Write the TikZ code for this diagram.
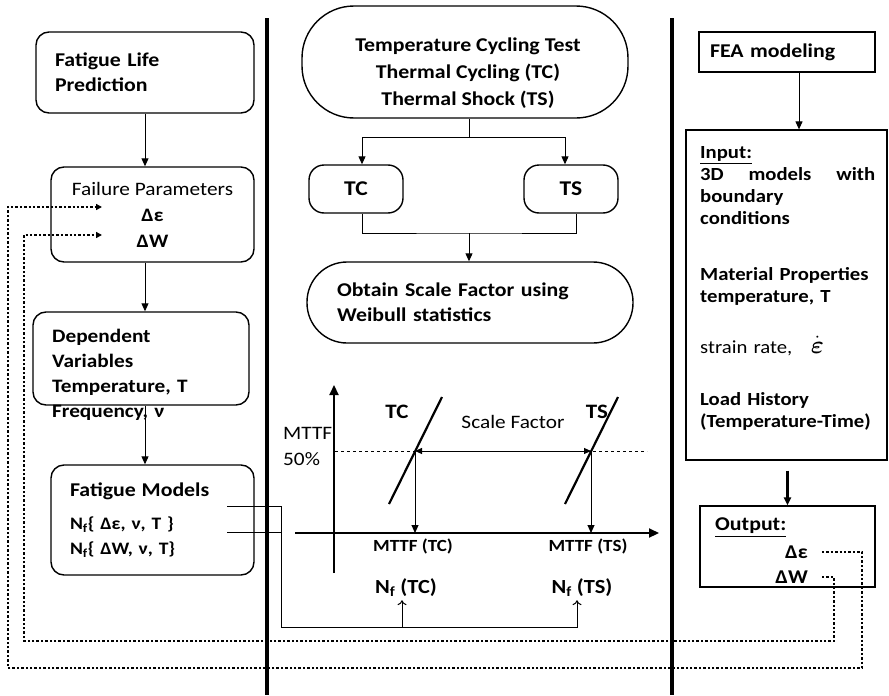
\documentclass[tikz,border=0pt]{standalone}
\usepackage{fontspec}
\setmainfont{Carlito}[FakeStretch=1.12]
\usepackage{amsmath}
\usetikzlibrary{positioning,arrows.meta,calc}

\begin{document}
\begin{tikzpicture}[x=1pt, y=-1pt,
   box/.style={draw, line width=1.4pt, rounded corners=13pt, inner sep=0pt},
   pill/.style={draw, line width=1.4pt, rounded corners=40pt, inner sep=0pt},
   sqbox/.style={draw, line width=1.2pt, inner sep=0pt},
   txt/.style={inner sep=0pt, align=left, font=\fontsize{19.5}{25}\selectfont\bfseries},
   plain/.style={inner sep=0pt, align=left, font=\fontsize{19}{26}\selectfont},
   small/.style={inner sep=0pt, font=\fontsize{17}{18}\selectfont\bfseries},
   wire/.style={line width=1pt},
   axis/.style={line width=2.2pt},
   dots/.style={line width=2.4pt, dash pattern=on 2.4pt off 2pt},
   sep/.style={line width=4pt},
   >={Triangle[length=8pt,width=7pt]}]
  \useasboundingbox (0,0) rectangle (889,696);

  % left column
  \node[box, txt, minimum width=218pt, minimum height=81pt, text width=180pt] (life) at (145,72.5) {Fatigue Life\\Prediction};
  \node[box, minimum width=203pt, minimum height=95pt, align=center,
        font=\fontsize{19}{26}\selectfont] (fail) at (152.5,214.5) {Failure Parameters\\\textbf{Δε}\\\textbf{ΔW}};
  \node[box, minimum width=216pt, minimum height=93pt] (dep) at (141,358.5) {};
  \node[txt, anchor=west, text width=195pt, font=\fontsize{19}{25}\selectfont\bfseries] (deptxt) at (52,374.5)
    {Dependent\\Variables\\Temperature, T\\Frequency, ν};
  \node[box, txt, minimum width=203pt, minimum height=110pt, text width=165pt,
        font=\fontsize{17.5}{25}\selectfont\bfseries] (models) at (152.5,520)
    {{\fontsize{19.5}{25}\selectfont Fatigue Models}\\[8pt]N\textsubscript{f}\{ Δε, ν, T \}\\N\textsubscript{f}\{ ΔW, ν, T\}};
  \draw[wire,->] (life.south) -- (life.south |- fail.north);
  \draw[wire,->] (life.south |- fail.south) -- (life.south |- dep.north);
  \draw[wire,->] (life.south |- dep.south) -- (life.south |- models.north);

  % centre column
  \node[pill, rounded corners=52pt, minimum width=326pt, minimum height=112pt] (test) at (465,62) {};
  \node[txt, align=center, font=\fontsize{19.5}{27}\selectfont\bfseries] (testtxt) at (468,73)
    {Temperature Cycling Test\\Thermal Cycling (TC)\\Thermal Shock (TS)};
  \node[box, txt, rounded corners=15pt, minimum width=94pt, minimum height=48pt, font=\fontsize{21}{25}\selectfont\bfseries] (tc) at (356,189) {TC};
  \node[box, txt, rounded corners=15pt, minimum width=94pt, minimum height=48pt, font=\fontsize{21}{25}\selectfont\bfseries] (ts) at (571,189) {TS};
  \node[pill, txt, minimum width=326pt, minimum height=81pt, text width=266pt] (scale) at (470,302.5)
    {Obtain Scale Factor using\\Weibull statistics};
  \coordinate (split) at (469,137);
  \coordinate (join) at (469,233);
  \draw[wire] (split |- test.south) -- (split);
  \draw[wire,->] (split) -| ([xshift=6pt]tc.north);
  \draw[wire,->] (split) -| ([xshift=-6pt]ts.north);
  \draw[wire] ([xshift=6pt]tc.south) |- (join) -| ([xshift=5pt]ts.south);
  \draw[wire,->] (join) -- (join |- scale.north);

  % MTTF chart
  \coordinate (o) at (334,533);
  \coordinate (ybot) at (334,573);
  \coordinate (ytop) at (334,385);
  \coordinate (xl) at (295,533);
  \coordinate (xr) at (659,533);
  \coordinate (pTC) at (415,451);
  \coordinate (pTS) at (591,451);
  \draw[axis,-{Triangle[length=10pt,width=9pt]}] (ybot) -- (ytop);
  \draw[axis,-{Triangle[length=10pt,width=9pt]}] (xl) -- (xr);
  \draw[dashed, line width=0.8pt] (335,451) -- (647,451);
  \draw[axis] (389,504) -- (442,397);
  \draw[axis] (565,504) -- (618,397);
  \draw[wire,{Triangle[length=7pt,width=6pt]}-{Triangle[length=7pt,width=6pt]}] (pTC) -- (pTS);
  \draw[wire,->] (pTC) -- (pTC |- o);
  \draw[wire,->] (pTS) -- (pTS |- o);
  \node[txt, font=\fontsize{20.5}{25}\selectfont\bfseries] (lblTC) at (397,412) {TC};
  \node[txt, font=\fontsize{20.5}{25}\selectfont\bfseries] (lblTS) at (597,412) {TS};
  \node[plain] (lblSF) at (513,422) {Scale Factor};
  \node[plain, anchor=west] (mttf) at (283,446) {MTTF\\50\%};
  \node[small] (mTC) at (413,546) {MTTF (TC)};
  \node[small] (mTS) at (588,546) {MTTF (TS)};
  \node[txt, font=\fontsize{20}{25}\selectfont\bfseries] (nfTC) at (406,588) {N\textsubscript{f} (TC)};
  \node[txt, font=\fontsize{20}{25}\selectfont\bfseries] (nfTS) at (582,588) {N\textsubscript{f} (TS)};

  % models feed the N_f values
  \coordinate (m1) at (227,506);
  \coordinate (m2) at (227,532);
  \coordinate (busL) at (281,627);
  \coordinate (busR) at (578,627);
  \draw[wire] (m1) -| (busL) -- (busR);
  \draw[wire] (m2) -- (m2 -| busL);
  \draw[wire,-{To[length=5pt,width=9pt]}] ([xshift=-4pt]nfTC.south |- busL) -- ([xshift=-4pt,yshift=-3pt]nfTC.south);
  \draw[wire,-{To[length=5pt,width=9pt]}] ([xshift=-5pt]nfTS.south |- busR) -- ([xshift=-5pt,yshift=-3pt]nfTS.south);

  % right column
  \node[sqbox, txt, minimum width=176pt, minimum height=40pt, text width=154pt] (fea) at (787,52) {FEA modeling};
  \node[sqbox, minimum width=201pt, minimum height=330pt] (input) at (786.5,295) {};
  \node[txt, anchor=north west, text width=175pt, font=\fontsize{18.5}{22}\selectfont\bfseries] (inputtxt) at (700,146)
    {\underline{Input:}\\3D\hfill models\hfill with\\boundary\\conditions\\[34pt]Material Properties\\temperature, T\\[29pt]
     {\mdseries strain rate,}\quad{\fontsize{24}{22}\selectfont$\dot{\boldsymbol{\varepsilon}}$}\\[30pt]Load History\\(Temperature-Time)};
  \node[sqbox, minimum width=175pt, minimum height=81pt] (output) at (787.5,546.5) {};
  \node[txt, anchor=west] (outlbl) at (715,528) {\underline{Output:}};
  \node[txt, anchor=east] (outeps) at (808,552) {Δε};
  \node[txt, anchor=east] (outw) at (808,577) {ΔW};
  \draw[wire,->] ([xshift=12pt]fea.south) -- ([xshift=12pt]fea.south |- input.north);
  \draw[axis,->, shorten <=10pt] (output.north |- input.south) -- (output.north);

  % feedback of the FEA output
  \coordinate (epsIn) at (102,207);
  \coordinate (wIn) at (102,235);
  \coordinate (loopA) at (8,668);
  \coordinate (loopB) at (24,641);
  \draw[dots,-{Triangle[length=6pt,width=6pt]}] ([xshift=14pt]outeps.east) -- ++(40,0) |- (loopA) |- (epsIn);
  \draw[dots,-{Triangle[length=6pt,width=6pt]}] ([xshift=14pt]outw.east) -- ++(12,0) |- (loopB) |- (wIn);

  % column separators
  \draw[sep] (267,18) -- (267,695);
  \draw[sep] (672,18) -- (672,695);
\end{tikzpicture}
\end{document}
